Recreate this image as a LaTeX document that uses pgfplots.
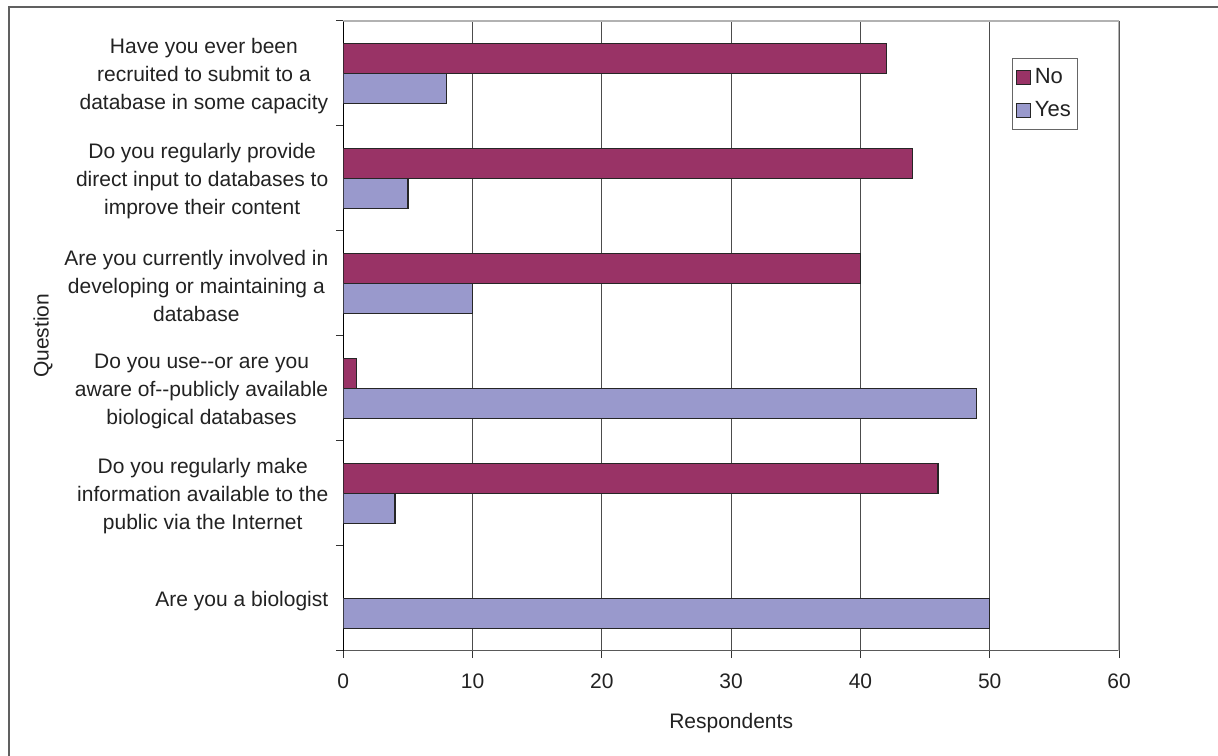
\documentclass[border=0pt]{standalone}
\usepackage{fontspec}
\setmainfont{Liberation Sans}
\usepackage{pgfplots}
\pgfplotsset{compat=1.18}
\definecolor{noc}{HTML}{993366}
\definecolor{yesc}{HTML}{9999CC}
\definecolor{txt}{HTML}{222222}
\begin{document}
\begin{tikzpicture}
\useasboundingbox (0,0) rectangle (609pt,377.5pt);
\draw[line width=1pt, gray!75!black] (4.5pt,-1pt) -- (4.5pt,374pt) -- (610pt,374pt);
\begin{axis}[
  at={(171.65pt,52.15pt)}, anchor=south west,
  scale only axis, width=387.85pt, height=314.85pt,
  xbar, bar width=15pt,
  xmin=0, xmax=60, ymin=-0.5, ymax=5.5,
  xtick={0,10,...,60},
  ytick={-0.5,0.5,...,5.5}, yticklabels={},
  extra y ticks={0,1,2,3,4,5},
  extra y tick labels={{Are you a biologist},
    {Do you regularly make\\information available to the\\public via the Internet},
    {Do you use-{}-or are you\\aware of-{}-publicly available\\biological databases},
    {Are you currently involved in\\developing or maintaining a\\database},
    {Do you regularly provide\\direct input to databases to\\improve their content},
    {Have you ever been\\recruited to submit to a\\database in some capacity}},
  extra y tick style={major tick length=0pt, grid=none},
  yticklabel style={align=center, font=\fontsize{10.5}{14}\selectfont, text=txt, xshift=-4pt, yshift=-1.5pt},
  xticklabel style={font=\fontsize{10.5}{12}\selectfont, text=txt, yshift=-4.5pt},
  /pgf/number format/assume math mode=true,
  tick align=outside, major tick length=3.75pt,
  tick style={black!80, line width=0.5pt},
  axis x line*=bottom, axis y line*=left,
  x axis line style={gray!70!black, line width=0.7pt},
  y axis line style={black, line width=0.6pt},
  xmajorgrids=true,
  major grid style={gray!60!black, line width=0.5pt},
  xlabel={Respondents}, ylabel={Question},
  xlabel style={font=\fontsize{10.5}{12}\selectfont, text=txt, yshift=-5pt},
  ylabel style={font=\fontsize{10.5}{12}\selectfont, text=txt, at={(axis description cs:-0.3871,0.5)}, anchor=center},
  legend style={at={(0.8625,0.9417)}, anchor=north west, draw=gray!80!black, line width=0.5pt,
    font=\fontsize{11}{13}\selectfont, text=txt, inner xsep=1.5pt, inner ysep=3pt, row sep=3.5pt,
    cells={anchor=west}},
  legend image code/.code={\draw[#1, line width=0.5pt] (2pt,-3.5pt) rectangle (9pt,3.5pt);},
]
\addplot[draw=black!85, line width=0.6pt, fill=noc, bar shift=7.5pt] coordinates {
  (46,1) (1,2) (40,3) (44,4) (42,5)};
\addlegendentry{No}
\addplot[draw=black!85, line width=0.6pt, fill=yesc, bar shift=-7.5pt] coordinates {
  (50,0) (4,1) (49,2) (10,3) (5,4) (8,5)};
\addlegendentry{Yes}
\draw[gray!60, line width=0.6pt] (rel axis cs:0,1) -- (rel axis cs:1,1) -- (rel axis cs:1,0);
\end{axis}
\end{tikzpicture}
\end{document}
